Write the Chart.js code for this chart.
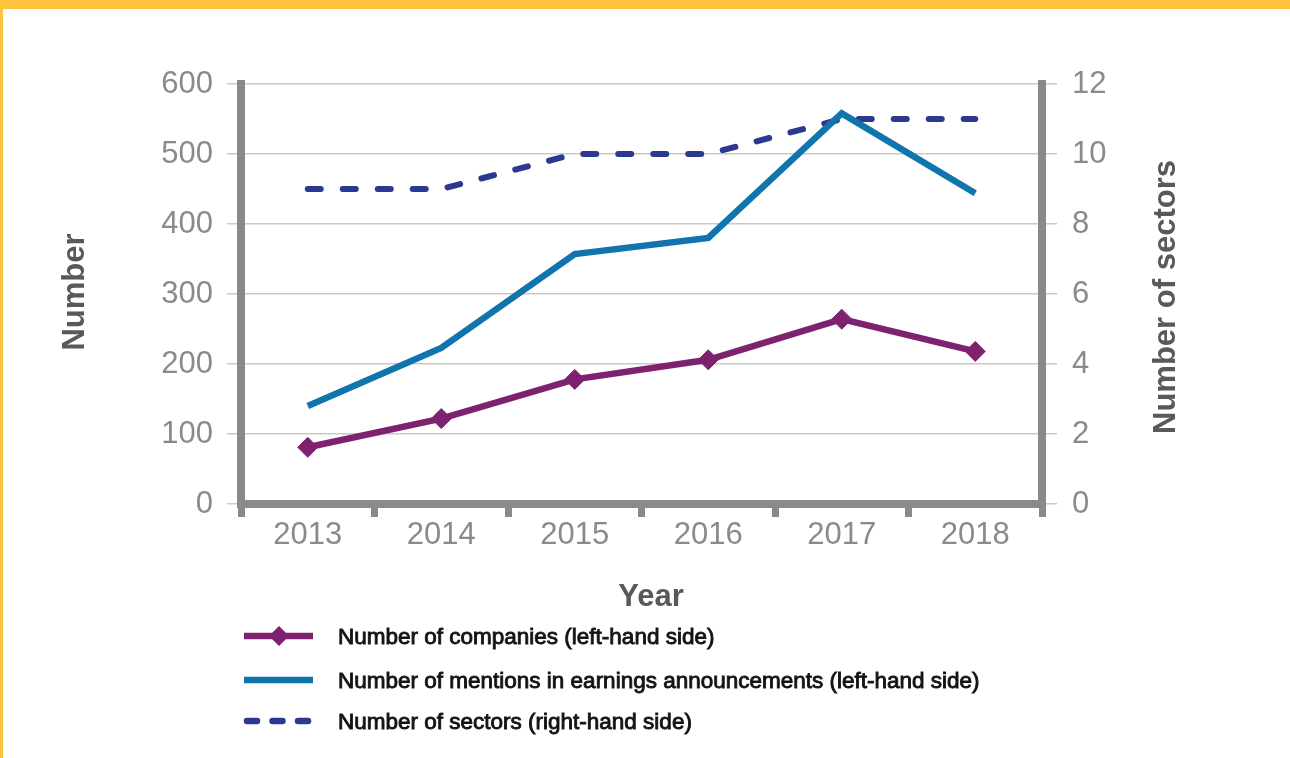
<!DOCTYPE html>
<html>
<head>
<meta charset="utf-8">
<script src="https://cdn.jsdelivr.net/npm/chart.js@4"></script>
<style>
    html, body { margin: 0; padding: 0; background: #fff; overflow: hidden; }
    #wrap { position: relative; width: 1290px; height: 758px; }
    #top-bar { position: absolute; left: 0; top: 0; width: 1290px; height: 9px; background: #fec33e; }
    #left-bar { position: absolute; left: 0; top: 0; width: 3px; height: 758px; background: #fec33e; }
</style>
</head>
<body>
<div id="wrap">
    <canvas id="chart"></canvas>
    <div id="top-bar"></div>
    <div id="left-bar"></div>
</div>
<script>
// data
const years = ['2013', '2014', '2015', '2016', '2017', '2018'];
const companies = [81, 122, 178, 206, 264, 218];
const mentions = [140, 223, 357, 380, 558, 444];
const sectors = [9, 9, 10, 10, 11, 11];

const leftTicks = [0, 100, 200, 300, 400, 500, 600];
const rightTicks = [0, 2, 4, 6, 8, 10, 12];

const labelCompanies = 'Number of companies (left-hand side)';
const labelMentions = 'Number of mentions in earnings announcements (left-hand side)';
const labelSectors = 'Number of sectors (right-hand side)';

const axisGrey = '#8a8a8a';
const gridGrey = '#c9c9c9';
const titleGrey = '#595959';

// tegner aksetitler og legend selv
const extras = {
    id: 'extras',
    afterDraw(chart) {
        const ctx = chart.ctx;
        ctx.save();
        ctx.fillStyle = titleGrey;
        ctx.font = 'bold 31px "Liberation Sans", Arial, sans-serif';
        ctx.textAlign = 'center';
        ctx.textBaseline = 'middle';

        // venstre tittel
        ctx.save();
        ctx.translate(75, 292);
        ctx.rotate(-Math.PI / 2);
        ctx.fillText('Number', 0, 0);
        ctx.restore();

        // høyre tittel (leses nedenfra og opp)
        ctx.save();
        ctx.translate(1166, 297);
        ctx.rotate(-Math.PI / 2);
        ctx.fillText('Number of sectors', 0, 0);
        ctx.restore();

        // x tittel
        ctx.fillText('Year', 651, 597);

        // legend
        const rows = [636, 680, 721];
        chart.data.datasets.forEach(function(ds, i) {
            const y = rows[i];
            ctx.save();
            ctx.strokeStyle = ds.borderColor;
            ctx.lineWidth = 6.5;
            if (ds.borderDash) {
                ctx.setLineDash([10, 15.5]);
                ctx.lineCap = 'round';
                ctx.beginPath();
                ctx.moveTo(247, y);
                ctx.lineTo(311, y);
                ctx.stroke();
            } else {
                ctx.beginPath();
                ctx.moveTo(244, y);
                ctx.lineTo(313, y);
                ctx.stroke();
            }
            if (ds.pointRadius > 0) {
                ctx.fillStyle = ds.borderColor;
                ctx.beginPath();
                ctx.moveTo(279, y - 10);
                ctx.lineTo(289, y);
                ctx.lineTo(279, y + 10);
                ctx.lineTo(269, y);
                ctx.closePath();
                ctx.fill();
            }
            ctx.restore();

            ctx.fillStyle = '#141414';
            ctx.strokeStyle = '#141414';
            ctx.lineWidth = 0.9;
            ctx.font = '22.5px "Liberation Sans", Arial, sans-serif';
            ctx.textAlign = 'left';
            ctx.textBaseline = 'alphabetic';
            ctx.fillText(ds.label, 338, y + 8);
            ctx.strokeText(ds.label, 338, y + 8);
        });
        ctx.restore();
    }
};

const tickFont = { family: '"Liberation Sans", Arial, sans-serif', size: 31 };

const chart = new Chart(document.getElementById('chart'), {
    type: 'line',
    data: {
        labels: years,
        datasets: [{
            label: labelCompanies,
            data: companies,
            yAxisID: 'y',
            borderColor: '#7e2270',
            backgroundColor: '#7e2270',
            borderWidth: 6.5,
            pointStyle: 'rectRot',
            pointRadius: 10,
            pointBorderWidth: 1,
            pointHoverRadius: 10,
            tension: 0
        }, {
            label: labelMentions,
            data: mentions,
            yAxisID: 'y',
            borderColor: '#1075ad',
            borderWidth: 6.5,
            pointRadius: 0,
            tension: 0
        }, {
            label: labelSectors,
            data: sectors,
            yAxisID: 'y2',
            borderColor: '#2b3990',
            borderWidth: 6,
            borderDash: [13, 22],
            borderCapStyle: 'round',
            pointRadius: 0,
            tension: 0
        }]
    },
    options: {
        responsive: true,
        maintainAspectRatio: false,
        animation: false,
        layout: { padding: { left: 0, right: 0, top: 84, bottom: 194 } },
        plugins: {
            legend: { display: false },
            tooltip: { enabled: false }
        },
        scales: {
            x: {
                offset: true,
                grid: {
                    offset: true,
                    drawOnChartArea: false,
                    color: axisGrey,
                    lineWidth: 7,
                    tickLength: 13
                },
                border: { color: axisGrey, width: 8 },
                ticks: { color: axisGrey, font: tickFont, padding: 0, maxRotation: 0 },
                afterFit: function(s) { s.height = 60; }
            },
            y: {
                position: 'left',
                min: 0,
                max: 600,
                afterBuildTicks: function(s) { s.ticks = leftTicks.map(v => ({ value: v })); },
                grid: { color: gridGrey, lineWidth: 1.5, tickLength: 14 },
                border: { color: axisGrey, width: 8 },
                ticks: { color: axisGrey, font: tickFont, padding: 14 },
                afterFit: function(s) { s.width = 241; }
            },
            y2: {
                position: 'right',
                min: 0,
                max: 12,
                afterBuildTicks: function(s) { s.ticks = rightTicks.map(v => ({ value: v })); },
                grid: { color: gridGrey, lineWidth: 1.5, tickLength: 15, drawOnChartArea: false },
                border: { color: axisGrey, width: 8 },
                ticks: { color: axisGrey, font: tickFont, padding: 15 },
                afterFit: function(s) { s.width = 248; }
            }
        }
    },
    plugins: [extras]
});
</script>
</body>
</html>
